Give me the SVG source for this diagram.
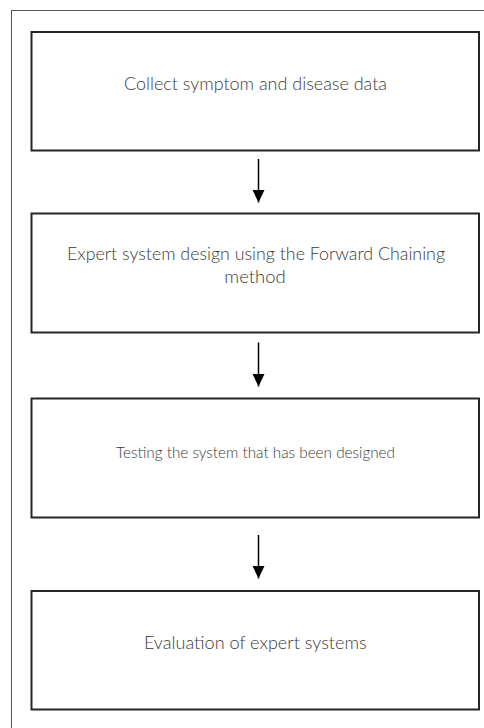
<svg xmlns="http://www.w3.org/2000/svg" width="484" height="728" viewBox="0 0 484 728">
<defs>
<style>
.frame{fill:none;stroke:#555;stroke-width:1}
.box{fill:#fff;stroke:#262626;stroke-width:2}
.lbl{font-family:Lato,"Liberation Sans",sans-serif;font-weight:300;font-size:17px;fill:#3a3a3a;text-anchor:middle}
.sm{font-size:16px}
.conn{stroke:#000;stroke-width:1.5;fill:none;marker-end:url(#ah)}
</style>
<marker id="ah" markerUnits="userSpaceOnUse" markerWidth="12" markerHeight="13" viewBox="0 0 12 13" refX="6" refY="12.5" orient="0">
<path d="M0,0 L12,0 L6,12.5 z" fill="#000"/>
</marker>
</defs>
<rect width="484" height="728" fill="#fff"/>
<rect class="frame" x="11.5" y="10.5" width="480" height="730"/>
<g id="n1">
<rect class="box" x="31.5" y="32" width="447.5" height="118.5"/>
<text class="lbl" x="255.5" y="90" textLength="263" lengthAdjust="spacingAndGlyphs">Collect symptom and disease data</text>
</g>
<g id="n2">
<rect class="box" x="31.5" y="213.5" width="447.5" height="119"/>
<text class="lbl" x="256" y="259.5" textLength="378" lengthAdjust="spacingAndGlyphs">Expert system design using the Forward Chaining</text>
<text class="lbl" x="255" y="282.5" textLength="61.4" lengthAdjust="spacingAndGlyphs">method</text>
</g>
<g id="n3">
<rect class="box" x="31.5" y="398.5" width="447.5" height="119"/>
<text class="lbl sm" x="255.5" y="457.5" textLength="279" lengthAdjust="spacingAndGlyphs">Testing the system that has been designed</text>
</g>
<g id="n4">
<rect class="box" x="31.5" y="591" width="447.5" height="118.5"/>
<text class="lbl" x="255.3" y="649" textLength="222.7" lengthAdjust="spacingAndGlyphs">Evaluation of expert systems</text>
</g>
<g id="connectors">
<line class="conn" x1="258.5" y1="159" x2="258.5" y2="202.5"/>
<line class="conn" x1="258.5" y1="342.5" x2="258.5" y2="386.5"/>
<line class="conn" x1="258.5" y1="535" x2="258.5" y2="578.5"/>
</g>
</svg>
